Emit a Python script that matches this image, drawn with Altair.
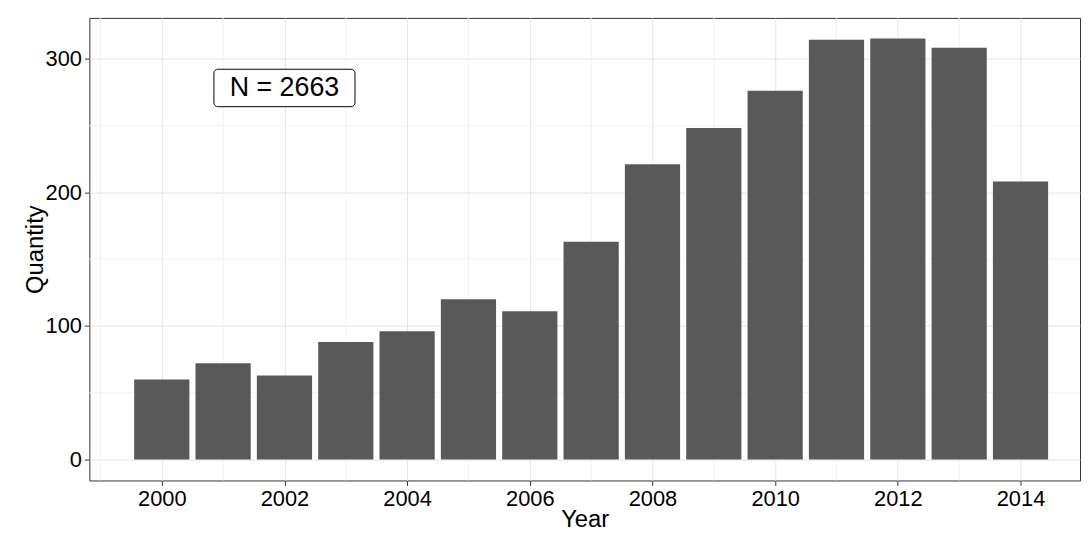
import altair as alt
import pandas as pd

years = list(range(2000, 2015))
quantity = [60, 72, 63, 88, 96, 120, 111, 163, 221, 248, 276, 314, 315, 308, 208]
label = "N = 2663"

df = pd.DataFrame({"year": years, "quantity": quantity})

xs = alt.Scale(domain=[1998.82, 2014.97], nice=False, zero=False)
ys = alt.Scale(domain=[-15.6, 330.4], nice=False, zero=False)

minor_x = alt.Chart(pd.DataFrame({"v": [1999, 2001, 2003, 2005, 2007, 2009, 2011, 2013]})).mark_rule(
    color="#f2f2f2", strokeWidth=1).encode(x=alt.X("v:Q", scale=xs))
minor_y = alt.Chart(pd.DataFrame({"v": [50, 150, 250]})).mark_rule(
    color="#f2f2f2", strokeWidth=1).encode(y=alt.Y("v:Q", scale=ys))

bars = alt.Chart(df).transform_calculate(
    x0="datum.year - 0.45", x1="datum.year + 0.45"
).mark_rect(color="#595959").encode(
    x=alt.X("x0:Q", scale=xs, title="Year",
            axis=alt.Axis(values=list(range(2000, 2015, 2)), format="d", gridColor="#e5e5e5",
                          labelFontSize=22, titleFontSize=24, labelColor="black", titleColor="black",
                          titleFontWeight="normal", tickColor="#333", domain=False, titlePadding=-2,
                          labelPadding=3)),
    x2="x1:Q",
    y=alt.Y("quantity:Q", scale=ys, title="Quantity",
            axis=alt.Axis(values=[0, 100, 200, 300], gridColor="#e5e5e5",
                          labelFontSize=22, titleFontSize=24, labelColor="black", titleColor="black",
                          titleFontWeight="normal", tickColor="#333", domain=False, titlePadding=-2,
                          labelPadding=3)),
    y2=alt.datum(0),
)

ann = pd.DataFrame({"x": [2000.85], "x2": [2003.15], "y": [264], "y2": [292],
                    "tx": [2002.0], "ty": [278], "t": [label]})
box = alt.Chart(ann).mark_rect(fill="white", stroke="black", cornerRadius=4, strokeWidth=1).encode(
    x=alt.X("x:Q", scale=xs), x2="x2", y=alt.Y("y:Q", scale=ys), y2="y2")
txt = alt.Chart(ann).mark_text(fontSize=27, color="black").encode(
    x=alt.X("tx:Q", scale=xs), y=alt.Y("ty:Q", scale=ys), text="t:N")

chart = alt.layer(minor_x, minor_y, bars, box, txt).properties(
    width=998, height=466, autosize=alt.AutoSizeParams(type="none"),
    padding={"left": 82, "top": 8, "right": 2, "bottom": 60}
).configure_view(stroke="#333333", strokeWidth=1).configure_axis(
    labelFont="Liberation Sans", titleFont="Liberation Sans", tickSize=5
).configure_text(font="Liberation Sans")

chart.save("out.html", embed_options={"renderer": "svg", "actions": False})
